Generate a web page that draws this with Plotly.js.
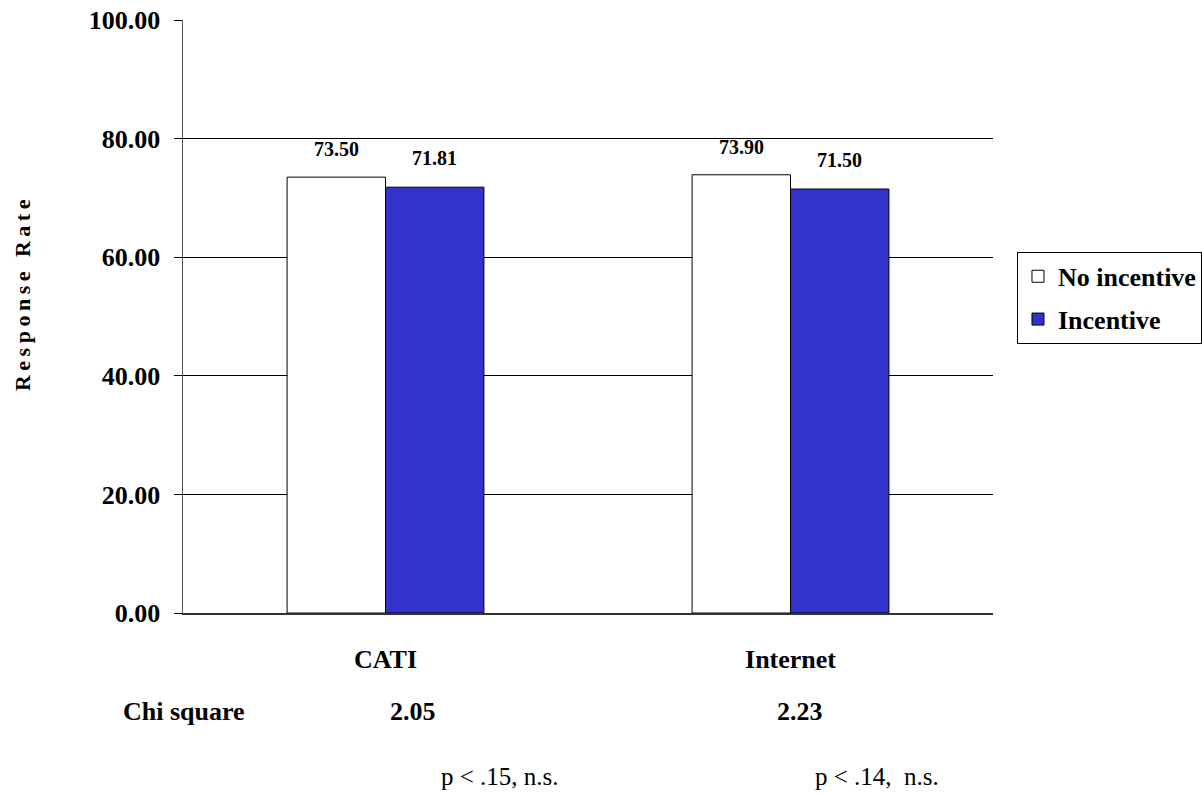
<!DOCTYPE html>
<html>
<head>
<meta charset="utf-8">
<script src="https://cdn.plot.ly/plotly-3.0.1.min.js"></script>
<style>
  html, body { margin: 0; padding: 0; background: #fff; }
  #chart { width: 1202px; height: 796px; }
  .annotation[data-index="0"] text { letter-spacing: 4.5px; }
</style>
</head>
<body>
<div id="chart"></div>
<script>
// Response rates by survey mode, with and without incentive
const modes = ['CATI', 'Internet'];
const noIncentive = [73.50, 73.90];
const incentive = [71.81, 71.50];
const chiSquare = ['2.05', '2.23'];
const pValues = ['p < .15, n.s.', 'p < .14,\u00A0 n.s.'];
const yTicks = [0, 20, 40, 60, 80, 100];

const serif = 'Liberation Serif, serif';
const blue = '#3333CC';
const bargap = 0.514;
const half = (1 - bargap) / 4; // offset of each bar centre from its category

const traces = [
  {
    type: 'bar', name: 'No incentive', x: modes, y: noIncentive,
    legendgroup: 'none',
    marker: { color: '#ffffff', line: { color: '#000', width: 1 } },
    hoverinfo: 'skip'
  },
  {
    type: 'bar', name: 'Incentive', x: modes, y: incentive,
    legendgroup: 'incentive',
    marker: { color: blue, line: { color: '#000', width: 1 } },
    hoverinfo: 'skip'
  }
];

const annotations = [
  {
    text: '<b>Response Rate</b>', textangle: -90,
    xref: 'paper', yref: 'paper', x: -0.1975, y: 0.54,
    xanchor: 'center', yanchor: 'middle',
    showarrow: false, font: { family: serif, size: 22, color: '#000' }
  },
  {
    text: '<b>Chi square</b>', xref: 'paper', yref: 'paper',
    x: 0.001, y: -0.166, xanchor: 'center', yanchor: 'middle',
    showarrow: false, font: { family: serif, size: 26, color: '#000' }
  }
];

modes.forEach((m, i) => {
  annotations.push({
    text: '<b>' + noIncentive[i].toFixed(2) + '</b>',
    x: i - half, y: noIncentive[i], xref: 'x', yref: 'y',
    yanchor: 'middle', yshift: 28, showarrow: false,
    font: { family: serif, size: 20, color: '#000' }
  });
  annotations.push({
    text: '<b>' + incentive[i].toFixed(2) + '</b>',
    x: i + half, y: incentive[i], xref: 'x', yref: 'y',
    yanchor: 'middle', yshift: 29, showarrow: false,
    font: { family: serif, size: 20, color: '#000' }
  });
  annotations.push({
    text: '<b>' + chiSquare[i] + '</b>',
    x: i, xref: 'x', yref: 'paper', y: -0.166, yanchor: 'middle',
    xshift: i === 0 ? 27 : 9, showarrow: false,
    font: { family: serif, size: 26, color: '#000' }
  });
  annotations.push({
    text: pValues[i],
    x: i, xref: 'x', yref: 'paper', y: -0.275, yanchor: 'middle',
    xshift: i === 0 ? 114 : 86, showarrow: false,
    font: { family: serif, size: 25, color: '#000' }
  });
});

const layout = {
  width: 1202, height: 796,
  margin: { l: 183, r: 209, t: 20, b: 183, autoexpand: false },
  paper_bgcolor: '#fff', plot_bgcolor: '#fff',
  font: { family: serif, color: '#000' },
  barmode: 'group', bargap: bargap, bargroupgap: 0,
  showlegend: true,
  legend: {
    x: 1.0296, y: 0.609, xanchor: 'left', yanchor: 'top',
    bgcolor: '#fff', bordercolor: '#000', borderwidth: 1,
    font: { family: serif, size: 26, color: '#000', weight: 'bold' },
    itemwidth: 30, traceorder: 'grouped', tracegroupgap: 6
  },
  xaxis: {
    type: 'category', showgrid: false, zeroline: false,
    showline: true, linecolor: '#333', linewidth: 2,
    ticks: '', ticklabelstandoff: 22,
    tickfont: { family: serif, size: 26, color: '#000', weight: 'bold' },
    fixedrange: true
  },
  yaxis: {
    range: [0, 100], tickvals: yTicks, tickformat: '.2f',
    showgrid: true, gridcolor: '#000', gridwidth: 1,
    zeroline: false, showline: true, linecolor: '#555', linewidth: 1.5,
    ticks: 'outside', ticklen: 8, tickcolor: '#000', tickwidth: 1,
    ticklabelstandoff: 8,
    tickfont: { family: serif, size: 26, color: '#000', weight: 'bold' },
    fixedrange: true
  },
  annotations: annotations
};

Plotly.newPlot('chart', traces, layout, { displayModeBar: false, staticPlot: true });
</script>
</body>
</html>
